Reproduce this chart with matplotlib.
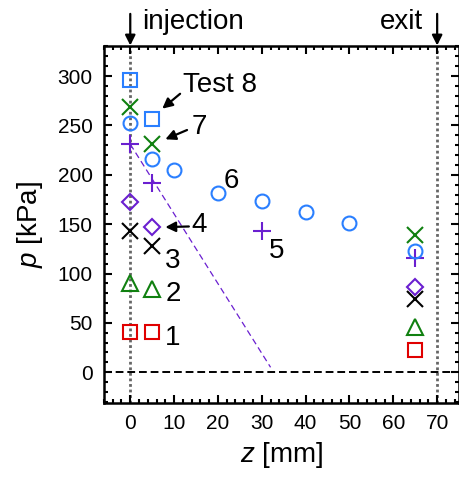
import numpy as np
import matplotlib
matplotlib.use("Agg")
import matplotlib.pyplot as plt
from matplotlib.ticker import MultipleLocator

plt.rcParams["font.family"] = ["Liberation Sans", "DejaVu Sans"]
plt.rcParams["mathtext.fontset"] = "custom"
plt.rcParams["mathtext.rm"] = "Liberation Sans"
plt.rcParams["mathtext.it"] = "Liberation Sans:italic"

# measured pressures per test, z in mm, p in kPa
z1 = [0, 5, 65];  p1 = [41, 41, 23]
z2 = [0, 5, 65];  p2 = [90, 84, 46]
z3 = [0, 5, 65];  p3 = [143, 128, 74]
z4 = [0, 5, 65];  p4 = [172, 147, 86]
z5 = [0, 5, 30, 65];  p5 = [231, 192, 143, 116]
z6 = [0, 5, 10, 20, 30, 40, 50, 65]
p6 = [252, 216, 205, 182, 173, 162, 151, 123]
z7 = [0, 5, 65];  p7 = [269, 231, 139]
z8 = [0, 5];  p8 = [296, 257]

# linear extrapolation for test 5
fit_z = [0, 32]
fit_p = [231, 5]

fig = plt.figure(figsize=(4.6, 4.79), dpi=100)
ax = fig.add_axes([0.226, 0.159, 0.772, 0.744])

ms = 10
mew = 1.5
purple = "#6a1fd0"
green = "#108010"
blue = "#2a7fff"
ax.plot(z1, p1, ls="none", marker="s", ms=ms, mfc="none", mec="#e00000", mew=mew)
ax.plot(z2, p2, ls="none", marker="^", ms=11, mfc="none", mec=green, mew=mew)
ax.plot(z3, p3, ls="none", marker="x", ms=11.5, mec="black", mew=mew)
ax.plot(z4, p4, ls="none", marker="D", ms=8.5, mfc="none", mec=purple, mew=mew)
ax.plot(z5, p5, ls="none", marker="+", ms=13, mec=purple, mew=mew)
ax.plot(z6, p6, ls="none", marker="o", ms=ms, mfc="none", mec=blue, mew=mew)
ax.plot(z7, p7, ls="none", marker="x", ms=11.5, mec=green, mew=mew)
ax.plot(z8, p8, ls="none", marker="s", ms=ms, mfc="none", mec=blue, mew=mew)
ax.plot(fit_z, fit_p, ls=(0, (5, 3)), color=purple, lw=0.9)

ax.axhline(0, color="black", ls=(0, (4, 2)), lw=1.4)
ax.axvline(0, color="#666666", ls=(0, (1, 1)), lw=2, zorder=0)
ax.axvline(70, color="#666666", ls=(0, (1, 1)), lw=2, zorder=0)

ax.set_xlim(-6, 75)
ax.set_ylim(-31, 330)
ax.xaxis.set_major_locator(MultipleLocator(10))
ax.xaxis.set_minor_locator(MultipleLocator(2))
ax.yaxis.set_major_locator(MultipleLocator(50))
ax.yaxis.set_minor_locator(MultipleLocator(10))
ax.tick_params(which="both", direction="in", top=True, right=True, labelsize=15,
               width=1.5, pad=8)
ax.tick_params(which="major", length=6)
ax.tick_params(which="minor", length=3)
for s in ax.spines.values():
    s.set_linewidth(1.8)

ax.set_xlabel(r"$z$ [mm]", fontsize=20, labelpad=5)
ax.set_ylabel(r"$p$ [kPa]", fontsize=20, labelpad=9)

arr = dict(arrowstyle="-|>", color="black", lw=1.6, mutation_scale=15,
           shrinkA=0, shrinkB=0)
fs = 20
ax.annotate("Test 8", xy=(7.3, 267), xytext=(12, 291), fontsize=fs, va="center",
            arrowprops=dict(arr, relpos=(0, 0.25)))
ax.annotate("7", xy=(8, 236), xytext=(14, 248), fontsize=fs, va="center",
            arrowprops=dict(arr, relpos=(-0.3, 0.4)))
ax.text(21.2, 194, "6", fontsize=fs, va="center")
ax.text(31.5, 123, "5", fontsize=fs, va="center")
ax.annotate("4", xy=(8, 147), xytext=(14, 149), fontsize=fs, va="center",
            arrowprops=dict(arr, relpos=(-0.1, 0.45)))
ax.text(8, 113, "3", fontsize=fs, va="center")
ax.text(8, 79, "2", fontsize=fs, va="center")
ax.text(8, 35, "1", fontsize=fs, va="center")

# injection / exit markers above the frame
ax.annotate("", xy=(0, 331), xytext=(0, 363), annotation_clip=False, arrowprops=arr)
ax.text(2.7, 347.5, "injection", fontsize=fs, va="baseline", clip_on=False)
ax.annotate("", xy=(70, 331), xytext=(70, 363), annotation_clip=False, arrowprops=arr)
ax.text(66.8, 347.5, "exit", fontsize=fs, va="baseline", ha="right", clip_on=False)

fig.savefig("out.png", dpi=100)
